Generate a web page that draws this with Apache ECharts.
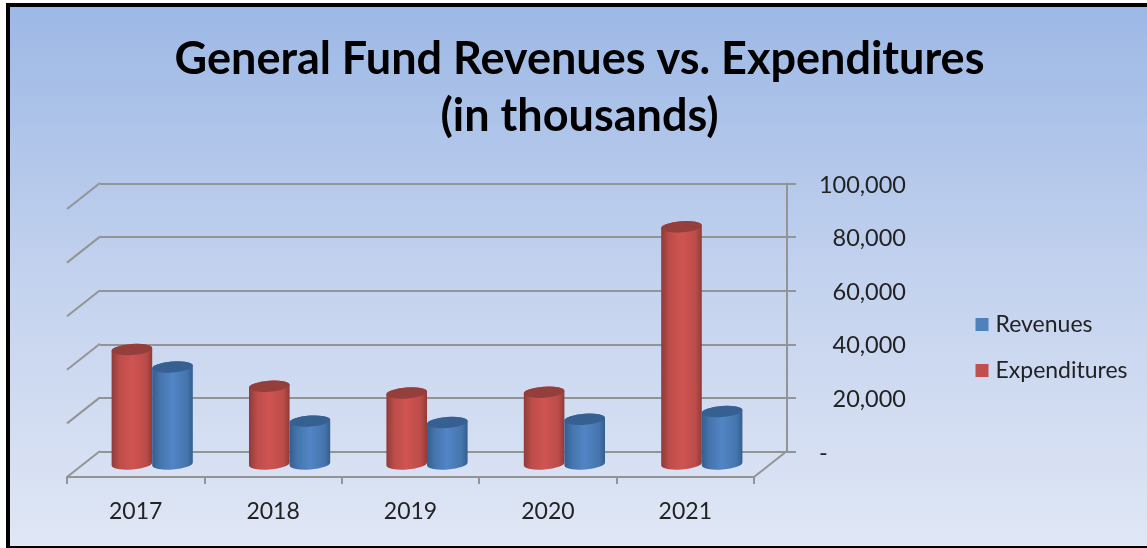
<!DOCTYPE html>
<html>
<head>
<meta charset="utf-8">
<title>General Fund Revenues vs. Expenditures</title>
<script src="https://cdn.jsdelivr.net/npm/echarts@6/dist/echarts.min.js"></script>
<style>
  html, body { margin: 0; padding: 0; background: #fff; }
  #chart { width: 1147px; height: 548px; }
</style>
</head>
<body>
<div id="chart"></div>
<script>
var categories = ['2017', '2018', '2019', '2020', '2021'];
var expenditures = [42700, 29000, 26500, 26800, 88500];
var revenues = [36200, 16000, 15500, 16700, 19600];
var tickValues = [0, 20000, 40000, 60000, 80000, 100000];
var tickLabels = ['-', '20,000', '40,000', '60,000', '80,000', '100,000'];

var fontName = 'Lato';
var lineGrey = '#949494';
var textColor = '#222222';
var depthX = 33; // front plane to back wall
var depthY = -26;

// 圆柱 (r = half of the column width, tilt follows the fake 3D view)
function cylinder(side, bodyStops, topColor) {
    return function (params, api) {
        var r = 20.3, ry = 5.5, tilt = 1.5;
        var top = api.coord([api.value(0), api.value(1)]);
        var base = api.coord([api.value(0), 0]);
        var cx = top[0] + depthX / 2 + side * r;
        var yTop = top[1] + depthY / 2;
        var yBase = base[1] + depthY / 2;
        var arc = 'A' + r + ' ' + ry + ' -4.2 0 0 ';
        var body = 'M' + (cx - r) + ' ' + (yTop + tilt) +
            'L' + (cx - r) + ' ' + (yBase + tilt) +
            arc + (cx + r) + ' ' + (yBase - tilt) +
            'L' + (cx + r) + ' ' + (yTop - tilt) +
            arc + (cx - r) + ' ' + (yTop + tilt) + 'Z';
        var cap = 'M' + (cx - r) + ' ' + (yTop + tilt) +
            arc + (cx + r) + ' ' + (yTop - tilt) +
            arc + (cx - r) + ' ' + (yTop + tilt) + 'Z';
        return {
            type: 'group',
            children: [
                {
                    type: 'path',
                    shape: { pathData: body },
                    style: { fill: new echarts.graphic.LinearGradient(0, 0, 1, 0, bodyStops) }
                },
                {
                    type: 'path',
                    shape: { pathData: cap },
                    style: { fill: topColor }
                }
            ]
        };
    };
}

var redStops = [
    { offset: 0, color: '#8f3b39' },
    { offset: 0.2, color: '#bd4d4a' },
    { offset: 0.5, color: '#cf5451' },
    { offset: 0.85, color: '#bb4c49' },
    { offset: 1, color: '#8f3b39' }
];
var blueStops = [
    { offset: 0, color: '#335e90' },
    { offset: 0.2, color: '#4675ad' },
    { offset: 0.5, color: '#5185c5' },
    { offset: 0.85, color: '#4675ad' },
    { offset: 1, color: '#335e90' }
];

function toPoints(values) {
    return values.map(function (v, i) { return [i, v]; });
}

var option = {
    animation: false,
    backgroundColor: '#ffffff',
    graphic: [{
        type: 'rect',
        z: -10,
        silent: true,
        shape: { x: 8, y: 5, width: 1150, height: 543 },
        style: {
            fill: new echarts.graphic.LinearGradient(0, 0, 0, 1, [
                { offset: 0, color: '#9cb8e5' },
                { offset: 0.5, color: '#c3d2ee' },
                { offset: 1, color: '#e0e7f5' }
            ]),
            stroke: '#000000',
            lineWidth: 4
        }
    }],
    title: {
        text: 'General Fund Revenues vs. Expenditures\n(in thousands)',
        left: 574.5,
        top: 26,
        textAlign: 'center',
        textStyle: {
            fontFamily: fontName,
            fontSize: 45,
            fontWeight: 'bold',
            color: '#000000',
            lineHeight: 57
        }
    },
    legend: {
        orient: 'vertical',
        left: 975.5,
        top: 313,
        padding: 0,
        itemWidth: 13,
        itemHeight: 13,
        itemGap: 23,
        icon: 'rect',
        data: ['Revenues', 'Expenditures'],
        textStyle: { fontFamily: fontName, fontSize: 23, color: textColor, padding: [0, 0, 0, 2] }
    },
    grid: [
        { left: 100, width: 687, top: 183.5, height: 268 }, // back wall
        { left: 67, width: 687, top: 209, height: 268 } // front plane
    ],
    xAxis: [
        { gridIndex: 0, type: 'category', data: categories, show: false },
        {
            gridIndex: 1,
            type: 'category',
            data: categories,
            axisLine: { lineStyle: { color: lineGrey, width: 2 } },
            axisTick: { show: true, length: 7, lineStyle: { color: lineGrey, width: 2 } },
            axisLabel: { margin: 23, fontFamily: fontName, fontSize: 23, color: textColor }
        }
    ],
    yAxis: [
        {
            gridIndex: 0,
            type: 'value',
            position: 'right',
            min: 0,
            max: 100000,
            interval: 20000,
            axisLine: { show: true, lineStyle: { color: lineGrey, width: 2 } },
            axisTick: { show: true, length: 9, lineStyle: { color: lineGrey, width: 2 } },
            splitLine: { show: true, lineStyle: { color: lineGrey, width: 2 } },
            axisLabel: {
                align: 'right',
                margin: 119,
                padding: [3, 0, 0, 0],
                fontFamily: fontName,
                fontSize: 23.5,
                color: textColor,
                formatter: function (v) {
                    var label = tickLabels[tickValues.indexOf(v)];
                    return label === '-' ? '{dash|-}' : label;
                },
                rich: {
                    dash: { width: 87, align: 'left', fontFamily: fontName, fontSize: 23.5, color: textColor }
                }
            }
        },
        { gridIndex: 1, type: 'value', min: 0, max: 100000, interval: 20000, show: false }
    ],
    series: [
        // 左侧墙和底面的斜线
        {
            type: 'custom',
            name: 'walls',
            xAxisIndex: 1,
            yAxisIndex: 1,
            silent: true,
            data: tickValues.map(function (v) { return [0, v]; }),
            renderItem: function (params, api) {
                var y = api.coord([0, api.value(1)])[1];
                var x = params.coordSys.x;
                var line = { stroke: lineGrey, lineWidth: 2 };
                var children = [{
                    type: 'line',
                    shape: { x1: x, y1: y, x2: x + depthX, y2: y + depthY },
                    style: line
                }];
                if (api.value(1) === 0) {
                    var xr = x + params.coordSys.width;
                    children.push({
                        type: 'line',
                        shape: { x1: xr, y1: y, x2: xr + depthX, y2: y + depthY },
                        style: line
                    });
                }
                return { type: 'group', children: children };
            }
        },
        {
            type: 'custom',
            name: 'Expenditures',
            xAxisIndex: 1,
            yAxisIndex: 1,
            z: 3,
            itemStyle: { color: '#c0504d' },
            data: toPoints(expenditures),
            renderItem: cylinder(-1, redStops, '#943f3c')
        },
        {
            type: 'custom',
            name: 'Revenues',
            xAxisIndex: 1,
            yAxisIndex: 1,
            z: 4,
            itemStyle: { color: '#4f81bd' },
            data: toPoints(revenues),
            renderItem: cylinder(1, blueStops, '#376092')
        }
    ]
};

var chart = echarts.init(document.getElementById('chart'));
chart.setOption(option);
</script>
</body>
</html>
